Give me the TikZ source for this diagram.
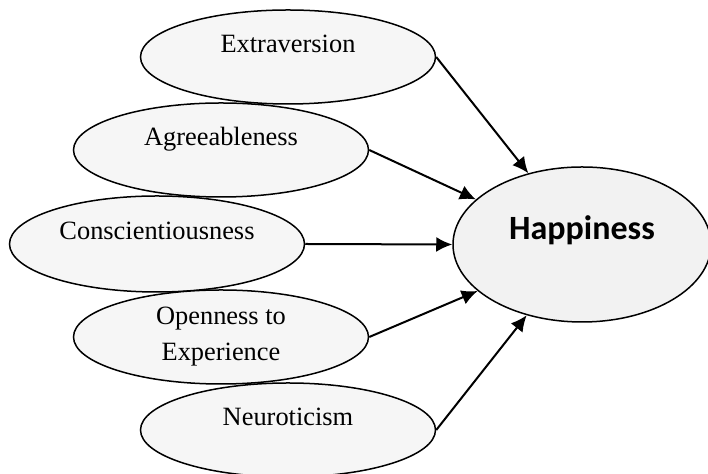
\documentclass[tikz,border=0pt]{standalone}
\usepackage{fontspec}
\setmainfont{Liberation Serif}
\newfontfamily\boldsans{Carlito}
\usetikzlibrary{shapes.geometric,arrows.meta}

\tikzset{
    trait/.style={ellipse, draw, line width=0.75pt, fill=gray!7, inner sep=0pt,
        minimum width=147.5pt, minimum height=47pt,
        font=\fontsize{13.2pt}{18pt}\selectfont, text height=9pt, text depth=13.2pt},
    path/.style={line width=1pt, -{Latex[length=8pt,width=7.5pt]}}
}

\begin{document}
\begin{tikzpicture}[x=0.5pt, y=-0.5pt]
    \useasboundingbox (0,0) rectangle (708,474);

    \node[trait] (extra) at (288,57) {Extraversion};
    \node[trait] (agree) at (221,150) {Agreeableness};
    \node[trait, minimum height=48pt] (consc) at (157,244) {Conscientiousness};
    \node[trait, text height=, text depth=, align=center] (open) at (221,337) {Openness to\\Experience};
    \node[trait] (neuro) at (288,430) {Neuroticism};

    \node[ellipse, draw, line width=0.75pt, fill=gray!10, inner sep=0pt,
        minimum width=129pt, minimum height=77.5pt,
        font=\boldsans\bfseries\fontsize{17pt}{20pt}\selectfont,
        text height=11pt, text depth=16pt] (happy) at (582,244.5) {Happiness};

    \draw[path] (extra.east) -- (happy.127);
    \draw[path] (agree.east) -- (happy.157);
    \draw[path] (consc.east) -- (happy.west);
    \draw[path] (open.east) -- (happy.204);
    \draw[path] (neuro.east) -- (happy.232);
\end{tikzpicture}
\end{document}
